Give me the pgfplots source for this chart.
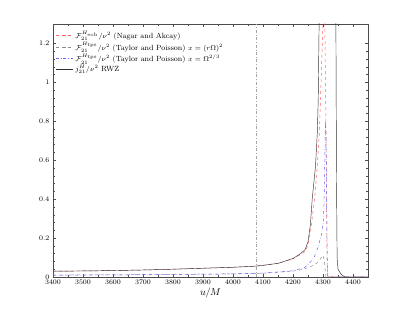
\documentclass[border=0pt]{standalone}
\usepackage{pgfplots}
\pgfplotsset{compat=1.18}
\definecolor{lred}{rgb}{1,0.4,0.4}
\definecolor{lblue}{rgb}{0.4,0.4,1}
\definecolor{mgray}{rgb}{0.55,0.55,0.55}
\definecolor{vgray}{rgb}{0.65,0.65,0.65}
\begin{document}
\begin{tikzpicture}
\useasboundingbox (-53pt,-35pt) rectangle (354pt,277pt);
\begin{axis}[
  at={(0pt,0pt)}, anchor=south west,
  scale only axis, width=315pt, height=253pt,
  xmin=3400, xmax=4450, ymin=0, ymax=1.3,
  xtick={3400,3500,...,4400},
  ytick={0,0.2,0.4,0.6,0.8,1,1.2},
  minor x tick num=1, minor y tick num=4,
  tick align=inside,
  major tick length=3pt, minor tick length=1.6pt,
  axis line style={line width=0.5pt, black!70},
  every tick/.style={black!70, line width=0.4pt},
  tick label style={font=\fontsize{7}{8}\selectfont},
  xticklabel style={yshift=1pt},
  /pgf/number format/1000 sep={},
  xlabel={$u/M$},
  xlabel style={font=\fontsize{10}{12}\selectfont, yshift=3pt},
  legend style={at={(0.005,0.985)}, anchor=north west, draw=none, fill=none,
    font=\fontsize{7.5}{8.5}\selectfont, row sep=-2pt, inner sep=1pt},
  legend cell align=left,
  clip=true,
]
\addplot[lred, dashed, line width=0.5pt] coordinates {
 (3400,0.03) (3500,0.031) (3600,0.033) (3700,0.036) (3800,0.04) (3900,0.045)
 (4000,0.05) (4077,0.056) (4100,0.06) (4150,0.07) (4200,0.093) (4225,0.115)
 (4240,0.13) (4250,0.165) (4260,0.25) (4266,0.33) (4272,0.4) (4280,0.55)
 (4288,0.74) (4295,1.08) (4300,1.3) (4303,1.6) (4306,1.3) (4309,0.9)
 (4311,0.6) (4313,0.2) (4314,0.05) (4316,0) (4450,0)};
\addlegendentry{$\mathcal{F}_{21}^{H_{\rm eob}}/\nu^2$ (Nagar and Akcay)}
\addplot[mgray, dashed, line width=0.5pt] coordinates {
 (3400,0.01) (3600,0.011) (3800,0.013) (4000,0.016) (4100,0.019) (4200,0.03)
 (4223,0.036) (4250,0.048) (4268,0.06) (4280,0.072) (4290,0.09) (4300,0.11)
 (4304,0.09) (4307,0.04) (4310,0) (4450,0)};
\addlegendentry{$\mathcal{F}_{21}^{H_{\rm tps}}/\nu^2$ (Taylor and Poisson) $x=(r\Omega)^2$}
\addplot[lblue, dash dot, line width=0.5pt] coordinates {
 (3400,0.009) (3600,0.011) (3800,0.013) (4000,0.016) (4100,0.02) (4200,0.032)
 (4240,0.05) (4257,0.075) (4270,0.1) (4284,0.155) (4295,0.22) (4301,0.28)
 (4304,0.4) (4306,0.6) (4308,0.8) (4310,0.72) (4312,0.4) (4314,0.1)
 (4316,0) (4450,0)};
\addlegendentry{$\mathcal{F}_{21}^{H_{\rm tps}}/\nu^2$ (Taylor and Poisson) $x=\Omega^{2/3}$}
\addplot[black!80, solid, line width=0.45pt] coordinates {
 (3400,0.03) (3500,0.031) (3600,0.033) (3700,0.036) (3800,0.04) (3900,0.045)
 (4000,0.05) (4077,0.056) (4100,0.06) (4150,0.07) (4200,0.095) (4225,0.12)
 (4240,0.14) (4250,0.18) (4258,0.27) (4264,0.4) (4275,0.57) (4281,0.74)
 (4284,0.91) (4287,1.3) (4289,1.6) (4315,1.6) (4342,1.6)
 (4343,1.3) (4345,0.5) (4347,0.1) (4350,0.04) (4360,0.015) (4368,0.005)
 (4375,0) (4450,0)};
\addlegendentry{$j_{21}^{H}/\nu^2$ RWZ}
\addplot[vgray, dash dot, line width=0.45pt, forget plot] coordinates {(4077,0) (4077,1.3)};
\node[anchor=south west, inner sep=0pt, font=\fontsize{6.5}{7}\selectfont] at (rel axis cs:0,1.01) {x $10^{-4}$};
\end{axis}
\end{tikzpicture}
\end{document}
